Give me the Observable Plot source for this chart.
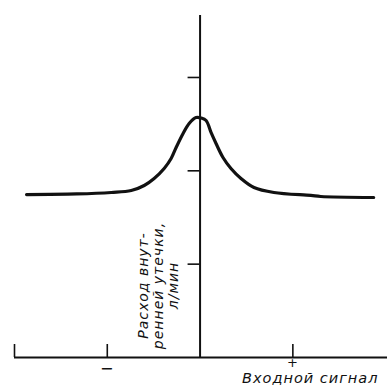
<!DOCTYPE html>
<html>
<head>
<meta charset="utf-8">
<script src="https://cdn.jsdelivr.net/npm/d3@7"></script>
<script src="https://cdn.jsdelivr.net/npm/@observablehq/plot@0.6"></script>
<style>
  html, body { margin: 0; padding: 0; background: #fff; }
</style>
</head>
<body>
<div id="chart"></div>
<script>
// Curve: input signal (arbitrary units) vs. internal leakage flow (arbitrary units)
const signal = [-1.87, -1.33, -0.957, -0.742, -0.602, -0.495, -0.387, -0.312, -0.258, -0.183, -0.118, -0.043, 0.011, 0.065, 0.118, 0.172, 0.247, 0.333, 0.441, 0.581, 0.796, 1.194, 1.301, 1.871];
const leakage = [1.746, 1.752, 1.768, 1.789, 1.843, 1.918, 2.025, 2.132, 2.250, 2.400, 2.507, 2.571, 2.566, 2.539, 2.411, 2.293, 2.143, 2.025, 1.918, 1.821, 1.768, 1.736, 1.725, 1.714];

const xDomain = [-2.0, 2.02];
const yDomain = [0, 3.664];
const yTicks = [1, 2, 3];
const xTicks = [-2.0, -1, 1];
const xSignLabels = [{x: -1, label: "−"}, {x: 1, label: "+"}];
const yLabel = "Расход внут-\nренней утечки,\nл/мин";
const xLabel = "Входной сигнал";

const curve = signal.map((s, i) => ({x: s, y: leakage[i]}));
const ink = "#111";
const font = "DejaVu Sans, sans-serif";

const chart = Plot.plot({
  width: 387,
  height: 386,
  marginLeft: 14,
  marginRight: 0,
  marginTop: 15,
  marginBottom: 29,
  x: {domain: xDomain, axis: null},
  y: {domain: yDomain, axis: null},
  style: {background: "#fff", fontFamily: font},
  marks: [
    Plot.ruleX([0], {stroke: ink, strokeWidth: 2}),
    Plot.ruleY([0], {stroke: ink, strokeWidth: 2}),
    Plot.ruleY(yTicks, {y: d => d, x1: 0, x2: 0, insetLeft: -12, stroke: ink, strokeWidth: 1.6}),
    Plot.ruleX(xTicks, {x: d => d, y1: 0, y2: 0, insetTop: -13, stroke: ink, strokeWidth: 1.6}),
    Plot.text(xSignLabels.slice(0, 1), {x: "x", y: 0, text: "label", dy: 11, fontSize: 16, fill: ink, fontFamily: font}),
    Plot.text(xSignLabels.slice(1), {x: "x", y: 0, text: "label", dy: 5, fontSize: 13, fill: ink, fontFamily: font}),
    Plot.line(curve, {x: "x", y: "y", curve: "catmull-rom", stroke: ink, strokeWidth: 3.2}),
    Plot.text([yLabel], {x: 0, y: 0, text: d => d, rotate: -90, dx: -42, dy: -72,
      textAnchor: "middle", lineAnchor: "middle", lineHeight: 1.08, fontSize: 14,
      fontStyle: "italic", fill: ink, fontFamily: font}),
    Plot.text([xLabel], {x: xDomain[1], y: 0, text: d => d, textAnchor: "end", dx: -9, dy: 21,
      fontSize: 14.5, fontStyle: "italic", fill: ink, fontFamily: font})
  ]
});
chart.querySelectorAll("text").forEach(t => t.style.letterSpacing = "1px");
document.getElementById("chart").append(chart);
</script>
</body>
</html>
